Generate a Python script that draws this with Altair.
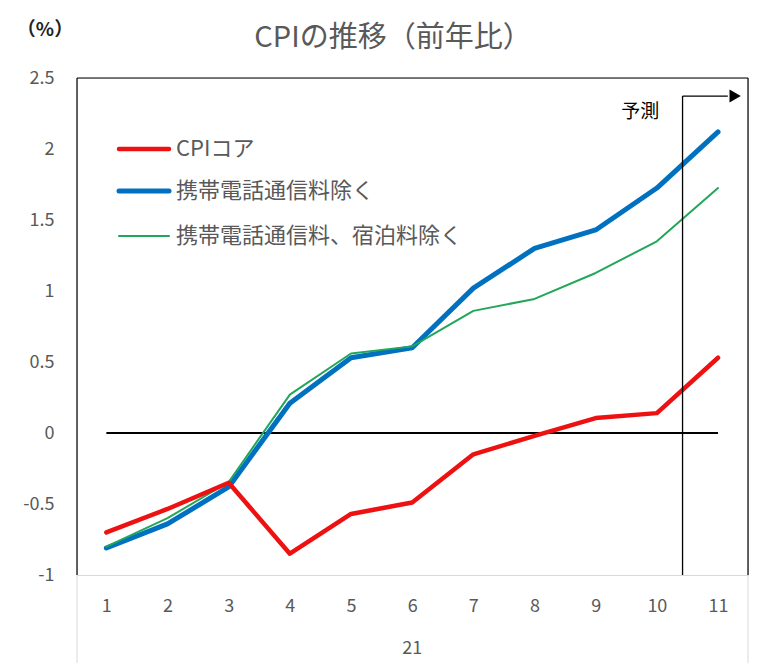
import altair as alt
import pandas as pd

months = [1, 2, 3, 4, 5, 6, 7, 8, 9, 10, 11]
year_label = "21"
series_names = ["CPIコア", "携帯電話通信料除く", "携帯電話通信料、宿泊料除く"]
cpi_core = [-0.70, -0.535, -0.35, -0.85, -0.57, -0.49, -0.15, -0.02, 0.105, 0.14, 0.53]
ex_mobile = [-0.81, -0.64, -0.38, 0.21, 0.53, 0.60, 1.02, 1.30, 1.43, 1.725, 2.12]
ex_mobile_hotel = [-0.80, -0.60, -0.345, 0.27, 0.56, 0.61, 0.86, 0.944, 1.127, 1.35, 1.725]
y_ticks = [-1, -0.5, 0, 0.5, 1, 1.5, 2, 2.5]

colors = ["#EE1111", "#0070C0", "#22A65A"]
widths = [4.5, 5, 2]
FONT = "Noto Sans CJK JP"
GRAY = "#595959"

values_by_series = [cpi_core, ex_mobile, ex_mobile_hotel]
df = pd.DataFrame([
    {"month": m, "value": v, "series": s}
    for s, vals in zip(series_names, values_by_series)
    for m, v in zip(months, vals)
])

W, H = 671, 497
xscale = alt.Scale(domain=[0.52, 11.49], nice=False, zero=False)
yscale = alt.Scale(domain=[-1, 2.5], nice=False, zero=False)

xenc = alt.X("month:Q", scale=xscale, axis=alt.Axis(
    values=months, format="d", title=None, ticks=False, labelPadding=22,
    labelFontSize=18, labelColor=GRAY, labelFont=FONT, domainColor="#D9D9D9",
    grid=False, labelFlush=False))
yenc = alt.Y("value:Q", scale=yscale, axis=alt.Axis(
    values=y_ticks, labelExpr="datum.value + ''", title=None, ticks=False,
    domain=False, grid=False, labelPadding=23, labelFlush=False,
    labelFontSize=18, labelColor=GRAY, labelFont=FONT))

base = alt.Chart(df)

def one():
    return alt.Chart(pd.DataFrame({"a": [0]}))

zero_line = one().mark_rule(color="black", strokeWidth=2).encode(
    x=alt.datum(1, scale=xscale), x2=alt.datum(11), y=alt.datum(0, scale=yscale))

layers = [zero_line]
# draw order: blue, green, red
for idx in [1, 2, 0]:
    layers.append(
        base.transform_filter(alt.datum.series == series_names[idx])
        .mark_line(color=colors[idx], strokeWidth=widths[idx], strokeJoin="round", strokeCap="round")
        .encode(x=xenc, y=yenc)
    )

fc_x = 10.42
fc_top = 2.373
arrow_end = 11.16
head_x = 11.28
forecast_v = one().mark_rule(color="black", strokeWidth=1.3).encode(
    x=alt.datum(fc_x, scale=xscale), y=alt.datum(fc_top, scale=yscale), y2=alt.datum(-1))
forecast_h = one().mark_rule(color="black", strokeWidth=1.3).encode(
    x=alt.datum(fc_x, scale=xscale), x2=alt.datum(arrow_end), y=alt.datum(fc_top, scale=yscale))
forecast_head = one().mark_point(
    shape="triangle-right", filled=True, color="black", size=170, opacity=1).encode(
    x=alt.datum(head_x, scale=xscale), y=alt.datum(fc_top, scale=yscale))
forecast_text = one().mark_text(
    text="予測", font=FONT, fontSize=19, color="black", fontWeight="normal").encode(
    x=alt.datum(9.73, scale=xscale), y=alt.datum(2.26, scale=yscale))
layers += [forecast_v, forecast_h, forecast_head, forecast_text]

# plot frame (top, left, right in black)
layers.append(one().mark_rule(color="black", strokeWidth=1.2).encode(
    x=alt.value(0), x2=alt.value(W), y=alt.value(0)))
for xv in [0, W]:
    layers.append(one().mark_rule(color="black", strokeWidth=1.2).encode(
        x=alt.value(xv), y=alt.value(0), y2=alt.value(H)))

# legend
legend_rows = [71, 113, 158]
for i, name in enumerate(series_names):
    layers.append(one().mark_rule(
        color=colors[i], strokeWidth=widths[i], strokeCap="round").encode(
        x=alt.value(42), x2=alt.value(92), y=alt.value(legend_rows[i])))
    layers.append(one().mark_text(
        text=name, font=FONT, fontSize=22, color=GRAY, align="left", baseline="middle").encode(
        x=alt.value(99), y=alt.value(legend_rows[i])))

# category group frame and label
for xv in [0, W]:
    layers.append(one().mark_rule(color="#D9D9D9", strokeWidth=1).encode(
        x=alt.value(xv), y=alt.value(H), y2=alt.value(H + 88)))
layers.append(one().mark_text(
    text=year_label, font=FONT, fontSize=18, color=GRAY).encode(
    x=alt.datum(6, scale=xscale), y=alt.value(571)))
layers.append(one().mark_text(
    text="（%）", font=FONT, fontSize=19, color="#222222", fontWeight="bold").encode(
    x=alt.value(-32), y=alt.value(-48)))
layers.append(one().mark_text(
    text="CPIの推移（前年比）", font=FONT, fontSize=29, color=GRAY, baseline="middle").encode(
    x=alt.value(316), y=alt.value(-40)))

chart = alt.layer(*layers).properties(
    width=W, height=H,
    autosize=alt.AutoSizeParams(type="none"),
    padding={"left": 69, "top": 70, "right": 19, "bottom": 88},
).configure_view(stroke=None).configure(background="white")

chart.save("out.html", embed_options={"renderer": "svg", "actions": False})
